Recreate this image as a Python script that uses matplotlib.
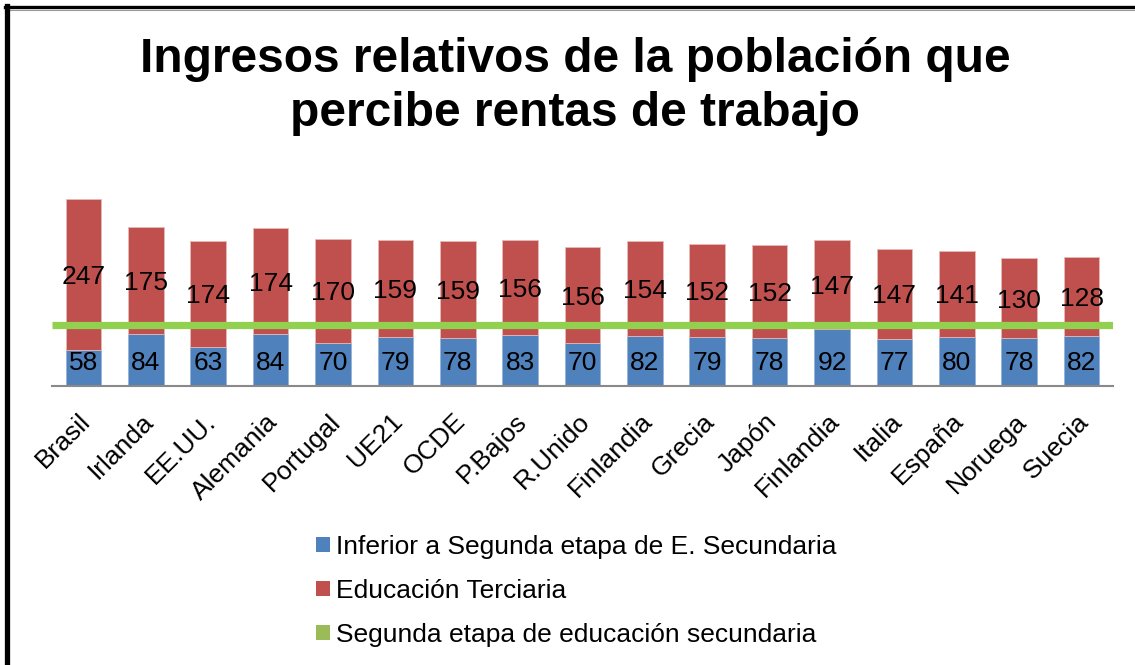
import matplotlib
matplotlib.use("Agg")
import matplotlib.pyplot as plt
import matplotlib.transforms as mtransforms
from matplotlib.patches import Patch
from matplotlib.lines import Line2D
import numpy as np

plt.rcParams['font.family'] = ['Liberation Sans', 'DejaVu Sans']

categories = ['Brasil', 'Irlanda', 'EE.UU.', 'Alemania', 'Portugal', 'UE21', 'OCDE',
              'P.Bajos', 'R.Unido', 'Finlandia', 'Grecia', 'Japón', 'Finlandia',
              'Italia', 'España', 'Noruega', 'Suecia']
inferior = [58, 84, 63, 84, 70, 79, 78, 83, 70, 82, 79, 78, 92, 77, 80, 78, 82]
terciaria = [247, 175, 174, 174, 170, 159, 159, 156, 156, 154, 152, 152, 147, 147, 141, 130, 128]
secundaria = 100

title = "Ingresos relativos de la población que\npercibe rentas de trabajo"
series_names = ['Inferior a Segunda etapa de E. Secundaria',
                'Educación Terciaria',
                'Segunda etapa de educación secundaria']

BLUE = '#4F81BD'
RED = '#C0504D'
GREEN_LINE = '#92D050'
GREEN_LEG = '#9BBB59'

W, H = 1135, 665
fig = plt.figure(figsize=(W / 100, H / 100), dpi=100)
ax = fig.add_axes([52.3 / W, 1 - 385.7 / H, (1112.7 - 52.3) / W, (385.7 - 190) / H])

x = np.arange(len(categories))
inf = np.array(inferior)
ter = np.array(terciaria)

ax.bar(x, inf, width=0.57, color=BLUE, edgecolor='#95B3D7', linewidth=0.6, zorder=2)
ax.bar(x, ter, bottom=inf, width=0.57, color=RED, edgecolor='#E6B9B8', linewidth=0.6, zorder=2)
ax.axhline(secundaria, color=GREEN_LINE, linewidth=5.2, zorder=3, solid_capstyle='butt')

for xi, v in zip(x, inf):
    ax.annotate(str(v), xy=(xi, 0), xytext=(0, 18.5), textcoords='offset points',
                ha='center', va='center_baseline', fontsize=19, zorder=4)
for xi, b, v in zip(x, inf, ter):
    ax.text(xi, b + v / 2, str(v), ha='center', va='center_baseline', fontsize=19, zorder=4)

ax.set_xlim(-0.5, len(categories) - 0.5)
ax.set_ylim(0, 320)
ax.set_yticks([])
ax.set_xticks(x)
ax.set_xticklabels(categories, rotation=45, ha='right', rotation_mode='anchor', fontsize=19)
ax.tick_params(axis='x', length=0, pad=14)
shift = mtransforms.ScaledTranslation(-5 / 100, -4 / 100, fig.dpi_scale_trans)
for lbl in ax.get_xticklabels():
    lbl.set_transform(lbl.get_transform() + shift)
for s in ['top', 'right', 'left']:
    ax.spines[s].set_visible(False)
ax.spines['bottom'].set_color('#898989')
ax.spines['bottom'].set_linewidth(1.5)
ax.spines['bottom'].set_zorder(5)

fig.text(575 / W, 1 - 86.5 / H, title, ha='center', va='center', fontsize=34.5,
         fontweight='bold', linespacing=1.25)

handles = [Patch(facecolor=BLUE), Patch(facecolor=RED), Patch(facecolor=GREEN_LEG)]
fig.legend(handles, series_names, loc='upper left', bbox_to_anchor=(316 / W, 1 - 535 / H),
           frameon=False, fontsize=19, handlelength=0.52, handleheight=0.52,
           handletextpad=0.22, labelspacing=0.76, borderpad=0, borderaxespad=0)

# chart frame
fig.add_artist(Line2D([5 / W, 1], [1 - 7.2 / H, 1 - 7.2 / H], transform=fig.transFigure,
                      color='black', linewidth=2.4))
fig.add_artist(Line2D([5 / W, 1], [1 - 9.5 / H, 1 - 9.5 / H], transform=fig.transFigure,
                      color='#9A9A9A', linewidth=0.8))
fig.add_artist(Line2D([7.4 / W, 7.4 / W], [0, 1 - 5.8 / H], transform=fig.transFigure,
                      color='black', linewidth=3.8))

fig.savefig('out.png', dpi=100)
